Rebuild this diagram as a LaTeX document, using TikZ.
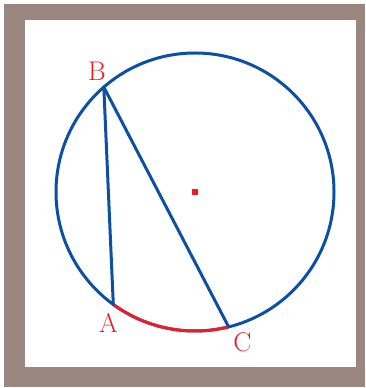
\documentclass[tikz,border=0pt]{standalone}
\usepackage{tikz}
\usetikzlibrary{calc}
\definecolor{framebrown}{RGB}{154,136,128}
\definecolor{circblue}{RGB}{12,80,166}
\definecolor{arcred}{RGB}{234,30,40}
\tikzset{
    lbl/.style={text=arcred, font=\fontsize{27}{27}\selectfont, inner sep=0pt},
    chord/.style={circblue, line width=3pt}
}
\begin{document}
\begin{tikzpicture}[x=1pt, y=1pt]
    \useasboundingbox (0,0) rectangle (366,388);
    % frame
    \fill[framebrown] (4,1) rectangle (365,384);
    \fill[white] (25,21) rectangle (356,368);

    \coordinate (O) at (195,196);
    \coordinate (A) at ($(O)+(234:139)$);
    \coordinate (B) at ($(O)+(131:139)$);
    \coordinate (C) at ($(O)+(284:139)$);

    \draw[chord] (O) circle[radius=139];
    \draw[arcred, line width=3pt] (A) arc[start angle=234, end angle=284, radius=139];
    \draw[chord, line cap=round] (B) -- (A);
    \draw[chord, line cap=round] (B) -- (C);
    \fill[arcred] ($(O)+(-3,-3)$) rectangle ($(O)+(3,3)$);

    \node[lbl] (labA) at (108.5,65.5) {A};
    \node[lbl] (labB) at (97,317) {B};
    \node[lbl] (labC) at (242.5,46) {C};
\end{tikzpicture}
\end{document}
